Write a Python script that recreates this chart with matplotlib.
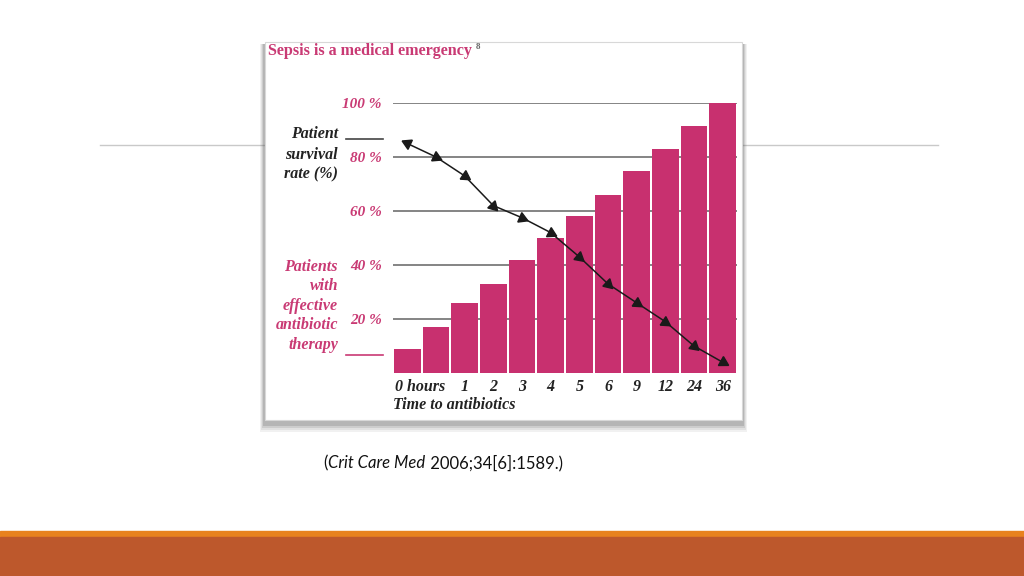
import numpy as np
import matplotlib.pyplot as plt
from matplotlib.patches import Rectangle
from matplotlib.transforms import ScaledTranslation

# data
bar_idx = [0, 1, 2, 3, 4, 5, 6, 7, 8, 9, 10, 11]
antibiotic_pct = [9, 17, 26, 33, 42, 50, 58, 66, 75, 83, 91.5, 100]
survival_pct = [85, 80, 73, 62, 57.5, 52, 43, 33, 26, 19, 10, 4]
# label position (bar index) and text; "0 hours" sits under the first bar
tick_pos = [0, 2, 3, 4, 5, 6, 7, 8, 9, 10, 11]
tick_labels = ["0 hours", "1", "2", "3", "4", "5", "6", "9", "12", "24", "36"]
grid_pct = [20, 40, 60, 80, 100]
grid_labels = ["20 %", "40 %", "60 %", "80 %", "100 %"]

PINK = "#C8306F"
PINK_TXT = "#C93A74"
W, H = 1024, 576


def fx(px):
    return px / W


def fy(py):
    return 1 - py / H


fig = plt.figure(figsize=(10.24, 5.76), dpi=100)
fig.patch.set_facecolor("white")
bg = fig.add_axes([0, 0, 1, 1])
bg.set_xlim(0, W)
bg.set_ylim(H, 0)
bg.axis("off")

# slide decorations
bg.plot([100, 938], [145, 145], color="#C9C9C9", lw=1, zorder=1)
bg.add_patch(Rectangle((0, 531), W, 7, color="#E8821E", zorder=1))
bg.add_patch(Rectangle((0, 537), W, 39, color="#BD582C", zorder=1))

# picture frame with soft shadow
for i, a in enumerate([0.08, 0.10, 0.14, 0.2]):
    d = 10 - 2 * i
    bg.add_patch(Rectangle((265 - d / 2, 44), 477 + d, 378 + d, color="#555555",
                           alpha=a, lw=0, zorder=2))
bg.add_patch(Rectangle((265, 42), 477, 378, facecolor="white", edgecolor="#D8D8D8",
                       lw=0.8, zorder=3))

serif = ["Liberation Serif", "DejaVu Serif"]
title = bg.text(268, 51, "Sepsis is a medical emergency", color=PINK_TXT, fontsize=11.6,
                fontweight="bold", family=serif, va="center", ha="left", zorder=4)
r = fig.canvas.get_renderer()
tw = title.get_window_extent(renderer=r).width
bg.text(268 + tw + 4, 47, "8", color="#666666", fontsize=6.5, fontweight="bold",
        family=serif, va="center", ha="left", zorder=4)

# left side legend texts
for t, y in zip(["Patient", "survival", "rate (%)"], [134, 155, 174]):
    bg.text(338, y, t, color="#222222", fontsize=11.5, fontweight="bold",
            style="italic", family=serif, ha="right", va="center", zorder=4)
bg.plot([346, 383], [139, 139], color="#444444", lw=1.2, zorder=4)
for t, y in zip(["Patients", "with", "effective", "antibiotic", "therapy"],
                [267, 286, 306, 325, 345]):
    bg.text(338, y, t, color=PINK_TXT, fontsize=11.5, fontweight="bold",
            style="italic", family=serif, ha="right", va="center", zorder=4)
bg.plot([346, 383], [355, 355], color=PINK_TXT, lw=1.2, zorder=4)

# main chart axes
ax = fig.add_axes([fx(393), fy(373), fx(737) - fx(393), fy(103) - fy(373)])
ax.patch.set_alpha(0)
x = np.array(bar_idx)
ax.set_xlim(-0.5, len(x) - 0.5)
ax.set_ylim(0, 100)
for g in grid_pct:
    ax.axhline(g, color="#707070", lw=1.2, zorder=1)
ax.bar(x, antibiotic_pct, width=0.94, color=PINK, zorder=2)

ax.plot(x, survival_pct, color="#1A1A1A", lw=1.1, zorder=3)
fig.canvas.draw()
pts = ax.transData.transform(np.column_stack([x, survival_pct]))
for i in range(len(x)):
    if i == 0:
        d = pts[0] - pts[1]
    else:
        d = pts[i] - pts[i - 1]
    ang = np.degrees(np.arctan2(d[1], d[0])) - 90
    ax.plot(x[i], survival_pct[i], marker=(3, 0, ang), markersize=8.5,
            color="#1A1A1A", zorder=4)

ax.set_yticks(grid_pct)
ax.set_yticklabels(grid_labels, color=PINK_TXT, fontsize=11, fontweight="bold",
                   style="italic", family=serif)
ax.set_xticks(tick_pos)
ax.set_xticklabels(tick_labels, fontsize=11.5, fontweight="bold", style="italic",
                   family=serif, color="#222222")
ax.tick_params(axis="y", length=0, pad=8)
ax.tick_params(axis="x", length=0, pad=4)
first = ax.xaxis.get_major_ticks()[0].label1
first.set_horizontalalignment("left")
first.set_transform(first.get_transform() + ScaledTranslation(-0.12, 0, fig.dpi_scale_trans))
for s in ax.spines.values():
    s.set_visible(False)

bg.text(393, 405, "Time to antibiotics", color="#222222", fontsize=11.5,
        fontweight="bold", style="italic", family=serif, ha="left", va="center", zorder=4)

# citation under the picture
cx = 323
for t, st in [("(", "normal"), ("Crit Care Med", "italic"), (" 2006;34[6]:1589.)", "normal")]:
    tx = bg.text(cx, 463, t, fontsize=12, style=st, family=["Lato", "DejaVu Sans"],
                 ha="left", va="center", color="#111111", zorder=4)
    ext = tx.get_window_extent(renderer=r)
    cx += ext.width + (1 if st == "normal" and t == "(" else 0)

fig.savefig("out.png", dpi=100)
